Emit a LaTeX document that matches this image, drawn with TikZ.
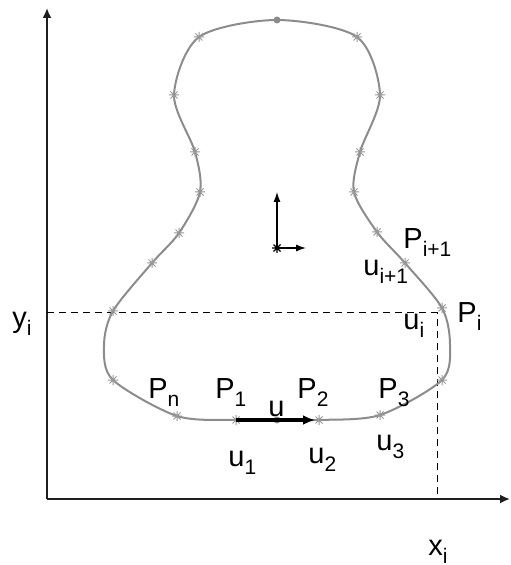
\documentclass[tikz,border=0pt]{standalone}
\usepackage{fontspec}
\setmainfont{Liberation Sans}
\usepackage{tikz}
\usetikzlibrary{arrows.meta}
\definecolor{curvegray}{RGB}{140,140,140}
\definecolor{stargray}{RGB}{150,150,150}
\definecolor{axisblack}{RGB}{30,30,30}
\newcommand{\sbs}[1]{\raisebox{-4pt}{\fontsize{10.5}{12}\selectfont #1}}

\tikzset{
  lbl/.style={anchor=base west, inner sep=0pt, font=\fontsize{14.5}{16}\selectfont},
  axisline/.style={axisblack, line width=0.9pt, -{Latex[length=5pt,width=4.5pt]}},
  guide/.style={black, line width=0.5pt, dash pattern=on 3.5pt off 2.5pt},
  frame/.style={black, line width=0.6pt, -{Latex[length=5pt,width=3.5pt]}},
  pics/starmark/.style={code={
    \draw (-5,0) -- (5,0) (0,-5) -- (0,5) (-3.5,-3.5) -- (3.5,3.5) (-3.5,3.5) -- (3.5,-3.5);}},
}

\begin{document}
\begin{tikzpicture}[x=0.5pt, y=-0.5pt]
    \useasboundingbox (0,0) rectangle (510,565);

    %% axes
    \coordinate (o) at (47,499);
    \coordinate (ytip) at (47,8);
    \coordinate (xtip) at (510,499);
    \draw[axisline] (o) -- (ytip);
    \draw[axisline] (o) -- (xtip);

    %% points on the contour
    \coordinate (top) at (277,20);
    \coordinate (r1) at (357,37);
    \coordinate (r2) at (380,95);
    \coordinate (r3) at (360,152);
    \coordinate (r4) at (354,192);
    \coordinate (r5) at (377,232);
    \coordinate (pip1) at (405,263);
    \coordinate (pi) at (442,308);
    \coordinate (rb) at (450,345);
    \coordinate (r8) at (442,380);
    \coordinate (p3) at (380,415);
    \coordinate (p2) at (319,420);
    \coordinate (mid) at (277,420);
    \coordinate (p1) at (236,420);
    \coordinate (pn) at (177,416);
    \coordinate (l8) at (113,380);
    \coordinate (lb) at (104,346);
    \coordinate (l7) at (113,311);
    \coordinate (l6) at (152,263);
    \coordinate (l5) at (179,233);
    \coordinate (l4) at (200,192);
    \coordinate (l3) at (195,152);
    \coordinate (l2) at (174,95);
    \coordinate (l1) at (199,37);

    %% projection of P_i
    \coordinate (yi) at (47,313);
    \coordinate (corner) at (437,313);
    \coordinate (xi) at (437,499);
    \draw[guide] (yi) -- (corner) -- (xi);

    %% contour
    \draw[curvegray, line width=1pt] plot[smooth cycle] coordinates {(top) (r1) (r2) (r3) (r4)
      (r5) (pip1) (pi) (rb) (r8) (p3) (p2) (mid) (p1) (pn) (l8) (lb) (l7) (l6) (l5) (l4)
      (l3) (l2) (l1)};
    \foreach \p in {r1,r2,r3,r4,r5,pip1,pi,r8,p3,p2,p1,pn,l8,l7,l6,l5,l4,l3,l2,l1}
      \pic[stargray, line width=0.5pt] at (\p) {starmark};
    \fill[curvegray] (top) circle (3.5) (mid) circle (3.5);

    %% direction u
    \draw[black, line width=2pt, shorten >=2pt, -{Latex[length=6pt,width=5pt]}] (p1) -- (p2);

    %% local frame
    \coordinate (c) at (277,248);
    \coordinate (cup) at (277,192);
    \coordinate (cright) at (306,248);
    \draw[frame] (c) -- (cup);
    \draw[frame] (c) -- (cright);
    \pic[black, line width=0.6pt] at (c) {starmark};

    %% labels
    \node[lbl] (lpip1) at (403,249) {P\sbs{i+1}};
    \node[lbl] (lupip1) at (363,276) {u\sbs{i+1}};
    \node[lbl] (lpi) at (457,322) {P\sbs{i}};
    \node[lbl] (lui) at (403,329) {u\sbs{i}};
    \node[lbl] (lyi) at (12,328) {y\sbs{i}};
    \node[lbl] (lxi) at (428,555) {x\sbs{i}};
    \node[lbl] (lpn) at (148,398) {P\sbs{n}};
    \node[lbl] (lp1) at (215,398) {P\sbs{1}};
    \node[lbl] (lp2) at (297,398) {P\sbs{2}};
    \node[lbl] (lp3) at (378,398) {P\sbs{3}};
    \node[lbl] (lu) at (268,416) {u};
    \node[lbl] (lu1) at (228,466) {u\sbs{1}};
    \node[lbl] (lu2) at (308,463) {u\sbs{2}};
    \node[lbl] (lu3) at (376,450) {u\sbs{3}};
  \end{tikzpicture}
\end{document}
